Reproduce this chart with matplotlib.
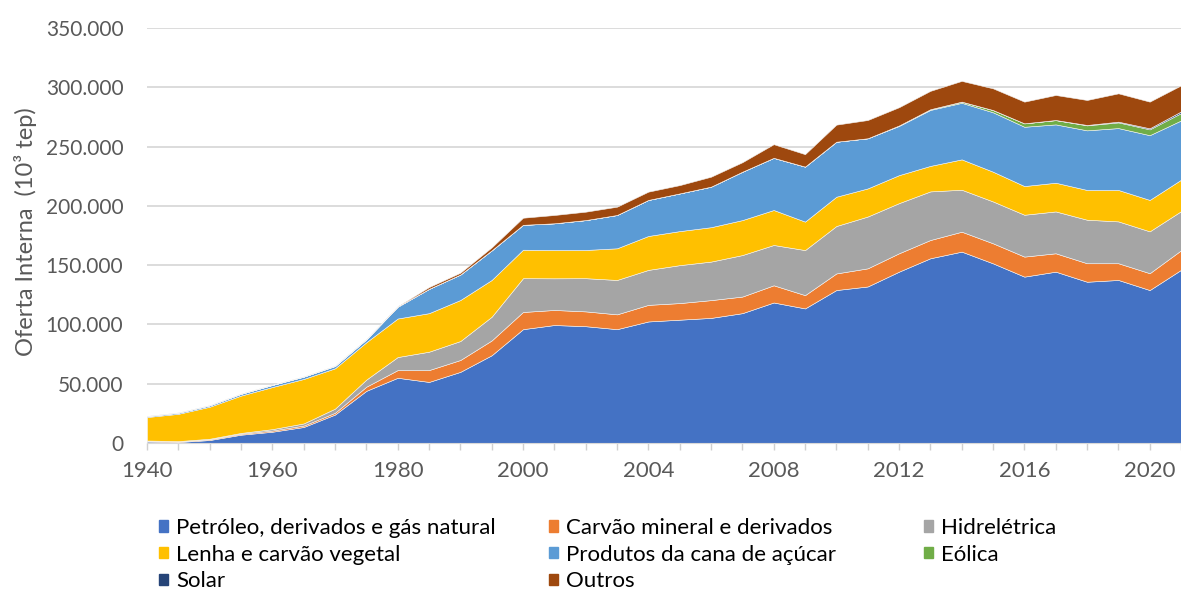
import numpy as np
import matplotlib
matplotlib.use("Agg")
import matplotlib.pyplot as plt
import matplotlib.patches as mpatches

plt.rcParams['font.family'] = ['Lato', 'DejaVu Sans']

# categories: every 5 years up to 2000, then yearly
years = ['1940', '1945', '1950', '1955', '1960', '1965', '1970', '1975', '1980',
         '1985', '1990', '1995', '2000', '2001', '2002', '2003', '2004', '2005',
         '2006', '2007', '2008', '2009', '2010', '2011', '2012', '2013', '2014',
         '2015', '2016', '2017', '2018', '2019', '2020', '2021']

# values in 10^3 tep (thousands)
petroleo = [1.2, 0.8, 2.5, 7.0, 9.5, 13.5, 24.0, 44.0, 55.0, 51.5, 60.0, 74.0, 96.0,
            99.5, 98.5, 96.0, 102.5, 104.0, 105.5, 109.5, 118.5, 113.5, 129.0, 132.0,
            144.5, 155.8, 161.4, 151.5, 140.3, 144.5, 136.0, 137.5, 129.0, 146.0]
carvao = [0.6, 0.5, 0.7, 0.8, 1.0, 1.2, 1.5, 3.5, 6.5, 10.0, 10.0, 12.5, 14.5,
          12.7, 12.5, 12.5, 14.0, 14.0, 15.0, 14.0, 14.5, 11.2, 14.0, 15.3,
          15.5, 15.4, 16.8, 16.9, 16.9, 15.5, 15.6, 14.1, 14.2, 16.5]
hidro = [0.3, 0.3, 0.4, 0.7, 1.2, 1.8, 3.5, 6.0, 11.0, 15.5, 16.0, 20.0, 28.5,
         26.7, 28.0, 29.0, 29.5, 32.0, 32.5, 35.0, 34.0, 38.0, 40.0, 43.7,
         42.3, 41.0, 35.4, 35.3, 35.3, 35.3, 36.7, 35.3, 35.3, 33.0]
lenha = [19.8, 23.0, 27.0, 31.5, 35.5, 37.5, 34.0, 31.5, 32.5, 32.5, 34.6, 31.0, 24.0,
         23.9, 23.8, 26.7, 28.6, 28.7, 29.0, 29.5, 29.5, 24.0, 24.7, 23.7,
         23.6, 21.5, 25.6, 25.1, 24.2, 24.2, 25.1, 26.5, 26.5, 26.5]
cana = [0.8, 1.0, 1.2, 1.5, 1.8, 2.0, 2.0, 2.5, 10.0, 20.5, 21.5, 25.0, 21.0,
        22.5, 25.2, 28.1, 30.4, 31.8, 34.2, 40.8, 44.0, 46.4, 46.4, 42.3,
        41.5, 47.2, 47.7, 50.1, 50.0, 49.2, 50.3, 52.2, 54.6, 50.0]
eolica = [0, 0, 0, 0, 0, 0, 0, 0, 0, 0, 0, 0, 0,
          0, 0, 0, 0, 0, 0, 0, 0, 0, 0, 0,
          0.4, 0.6, 1.0, 1.9, 2.9, 3.6, 4.2, 4.8, 4.9, 6.2]
solar = [0, 0, 0, 0, 0, 0, 0, 0, 0, 0, 0, 0, 0,
         0, 0, 0, 0, 0, 0, 0, 0, 0, 0, 0,
         0, 0, 0, 0, 0, 0.1, 0.3, 0.6, 0.9, 1.4]
outros = [0, 0, 0, 0, 0, 0, 0, 0, 0.3, 1.5, 1.5, 2.5, 6.0,
          7.0, 7.1, 7.0, 7.0, 7.0, 8.4, 8.0, 11.5, 10.5, 14.4, 15.4,
          15.4, 15.5, 17.5, 18.3, 18.3, 21.1, 21.1, 23.9, 22.5, 22.0]

labels = ['Petróleo, derivados e gás natural', 'Carvão mineral e derivados',
          'Hidrelétrica', 'Lenha e carvão vegetal', 'Produtos da cana de açúcar',
          'Eólica', 'Solar', 'Outros']
colors = ['#4472C4', '#ED7D31', '#A5A5A5', '#FFC000', '#5B9BD5',
          '#70AD47', '#264478', '#9E480E']

series = [petroleo, carvao, hidro, lenha, cana, eolica, solar, outros]
series = [np.array(s) * 1000 for s in series]

W, H = 1181, 592
fig = plt.figure(figsize=(W / 100, H / 100), dpi=100)
ax = fig.add_axes([147 / W, 1 - 443 / H, 1 - 147 / W, (443 - 28) / H])

x = np.arange(len(years))
ax.stackplot(x, *series, colors=colors, labels=labels,
             edgecolor='#f4f4f4', linewidth=0.4)

ax.set_xlim(0, 32 + 26 / 31.5)
ax.set_ylim(0, 350000)
ax.set_yticks(np.arange(0, 350001, 50000))
ax.set_yticklabels(['0' if v == 0 else '{:,}'.format(v).replace(',', '.')
                    for v in range(0, 350001, 50000)])
ax.set_xticks(x)
ax.set_xticklabels([y if i % 4 == 0 else '' for i, y in enumerate(years)])

ax.grid(axis='y', color='#D9D9D9', linewidth=1.3)
ax.set_axisbelow(True)
for side in ['top', 'right', 'left']:
    ax.spines[side].set_visible(False)
ax.spines['bottom'].set_color('#D9D9D9')

ax.tick_params(axis='y', length=0, pad=17, labelsize=15, labelcolor='#595959')
ax.tick_params(axis='x', length=5, width=1, color='#D0D0D0', pad=8,
               labelsize=16, labelcolor='#595959')

fig.text(26 / W, 1 - 232 / H, 'Oferta Interna  (10³ tep)', rotation=90,
         ha='center', va='center', fontsize=17, color='#595959')

handles = [mpatches.Patch(color=c) for c in colors]
columns = [([0, 3, 6], 159), ([1, 4, 7], 549), ([2, 5], 924)]
for idx, xpx in columns:
    fig.legend([handles[i] for i in idx], [labels[i] for i in idx],
               loc='upper left', bbox_to_anchor=(xpx / W, 1 - 518 / H),
               frameon=False, fontsize=16, handlelength=0.42, handleheight=0.42,
               handletextpad=0.35, labelspacing=0.3, borderpad=0,
               borderaxespad=0)

fig.savefig('out.png', dpi=100)
